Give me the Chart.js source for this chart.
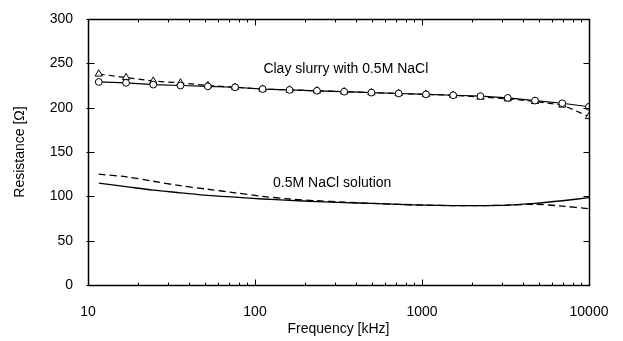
<!DOCTYPE html>
<html lang="en">
<head>
    <meta charset="UTF-8">
    <title>Resistance vs frequency</title>
    <script src="https://cdn.jsdelivr.net/npm/chart.js"></script>
    <style>
        html, body { margin: 0; padding: 0; background: #fff; overflow: hidden; }
        #wrap { width: 623px; height: 341px; position: relative; }
    </style>
</head>
<body>
<div id="wrap"><canvas id="grafico"></canvas></div>
<script>
    // frequencias medidas (kHz)
    const freqKHz = [11.6, 16.9, 24.6, 35.8, 52.2, 76, 111, 161, 235, 342, 498, 725, 1056, 1538, 2240, 3262, 4750, 6918, 10000];

    // lama de argila com 0.5M NaCl
    const slurrySolid  = [229, 228, 226, 225, 224, 223, 221, 220, 219, 218, 217, 216, 215, 214, 213, 211, 208, 205, 201];
    const slurryDashed = [238, 234, 230, 228, 225, 223, 221, 220, 219, 218, 217, 216, 215, 214, 212, 210, 207, 203, 190];

    // solucao 0.5M NaCl
    const solutionSolid  = [115, 111, 107, 104, 101, 99, 97, 95.5, 94, 93, 92, 91, 90, 89.5, 89.5, 90, 92, 95, 98.5];
    const solutionDashed = [125, 122, 117, 112, 108, 104, 100, 97, 95, 93.5, 92, 91, 90, 89.5, 89.5, 90, 91, 89, 86];

    const xTicks = [10, 100, 1000, 10000];
    const yTicks = [0, 50, 100, 150, 200, 250, 300];

    const pontos = (ys) => freqKHz.map((f, i) => ({ x: f, y: ys[i] }));

    const fonte = "'Liberation Sans', Arial, Helvetica, sans-serif";
    const corTexto = '#000';
    const corEixo = '#000';

    // moldura, ticks para dentro e textos das curvas
    const molduraPlugin = {
        id: 'moldura',
        afterDraw(chart) {
            const c = chart.ctx;
            const xs = chart.scales.x;
            const ys = chart.scales.y;
            const topo = Math.round(ys.getPixelForValue(300)) + 0.5;
            const base = Math.round(ys.getPixelForValue(0)) + 0.5;
            const esq = Math.round(xs.getPixelForValue(10)) + 0.5;
            const dir = Math.round(xs.getPixelForValue(10000)) + 0.5;
            c.save();
            c.setLineDash([]);
            c.strokeStyle = corEixo;
            c.lineWidth = 1.5;
            c.strokeRect(esq, topo, dir - esq, base - topo);

            c.lineWidth = 1;
            c.beginPath();
            for (let dec = 10; dec < 10000; dec *= 10) {
                for (let m = 2; m <= 10; m++) {
                    const px = Math.round(xs.getPixelForValue(dec * m)) + 0.5;
                    const len = (m === 10) ? 6 : 3;
                    c.moveTo(px, base); c.lineTo(px, base - len);
                    c.moveTo(px, topo); c.lineTo(px, topo + len);
                }
            }
            yTicks.forEach(v => {
                const py = Math.round(ys.getPixelForValue(v)) + 0.5;
                c.moveTo(esq - 2, py); c.lineTo(esq + 6, py);
                c.moveTo(dir, py); c.lineTo(dir - 6, py);
            });
            c.stroke();

            c.fillStyle = corTexto;
            c.font = '14px ' + fonte;
            c.textAlign = 'center';
            c.textBaseline = 'middle';
            c.fillText('Clay slurry with 0.5M NaCl', xs.getPixelForValue(350), ys.getPixelForValue(244));
            c.fillText('0.5M NaCl solution', xs.getPixelForValue(290), ys.getPixelForValue(115));
            c.restore();
        }
    };

    const ctx = document.getElementById('grafico').getContext('2d');

    const grafico = new Chart(ctx, {
        type: 'line',
        data: {
            datasets: [{
                label: 'Slurry (solid)',
                data: pontos(slurrySolid),
                borderColor: '#000',
                borderWidth: 1.2,
                pointStyle: 'circle',
                pointRadius: 3.4,
                pointBackgroundColor: '#fff',
                pointBorderColor: '#000',
                pointBorderWidth: 1,
                tension: 0
            }, {
                label: 'Slurry (dashed)',
                data: pontos(slurryDashed),
                borderColor: '#000',
                borderWidth: 1.2,
                borderDash: [6, 4],
                pointStyle: 'triangle',
                pointRadius: 4.2,
                pointBackgroundColor: '#fff',
                pointBorderColor: '#000',
                pointBorderWidth: 1,
                tension: 0
            }, {
                label: 'Solution (solid)',
                data: pontos(solutionSolid),
                borderColor: '#000',
                borderWidth: 1.3,
                pointRadius: 0,
                tension: 0.3
            }, {
                label: 'Solution (dashed)',
                data: pontos(solutionDashed),
                borderColor: '#000',
                borderWidth: 1.3,
                borderDash: [7, 4],
                pointRadius: 0,
                tension: 0.3
            }]
        },
        options: {
            responsive: true,
            maintainAspectRatio: false,
            animation: false,
            layout: {
                padding: { left: 0, top: 19, right: 34, bottom: 0 }
            },
            plugins: {
                legend: { display: false },
                tooltip: { enabled: false }
            },
            scales: {
                x: {
                    type: 'logarithmic',
                    min: 10,
                    max: 10000,
                    grid: { display: false },
                    border: { display: false },
                    afterBuildTicks: (axis) => {
                        axis.ticks = xTicks.map(v => ({ value: v }));
                    },
                    afterFit: (axis) => { axis.height = 56; },
                    ticks: {
                        autoSkip: false,
                        maxRotation: 0,
                        padding: 11,
                        color: corTexto,
                        font: { family: fonte, size: 14 },
                        callback: (v) => String(v)
                    },
                    title: {
                        display: true,
                        text: 'Frequency [kHz]',
                        color: corTexto,
                        font: { family: fonte, size: 14 },
                        padding: { top: 0, bottom: 3 }
                    }
                },
                y: {
                    min: 0,
                    max: 300,
                    grid: { display: false },
                    border: { display: false },
                    afterBuildTicks: (axis) => {
                        axis.ticks = yTicks.map(v => ({ value: v }));
                    },
                    afterFit: (axis) => { axis.width = 88; },
                    ticks: {
                        padding: 7,
                        color: corTexto,
                        font: { family: fonte, size: 14 }
                    },
                    title: {
                        display: true,
                        text: 'Resistance [Ω]',
                        color: corTexto,
                        font: { family: fonte, size: 14 },
                        padding: { top: 12, bottom: 0 }
                    }
                }
            }
        },
        plugins: [molduraPlugin]
    });
</script>
</body>
</html>
